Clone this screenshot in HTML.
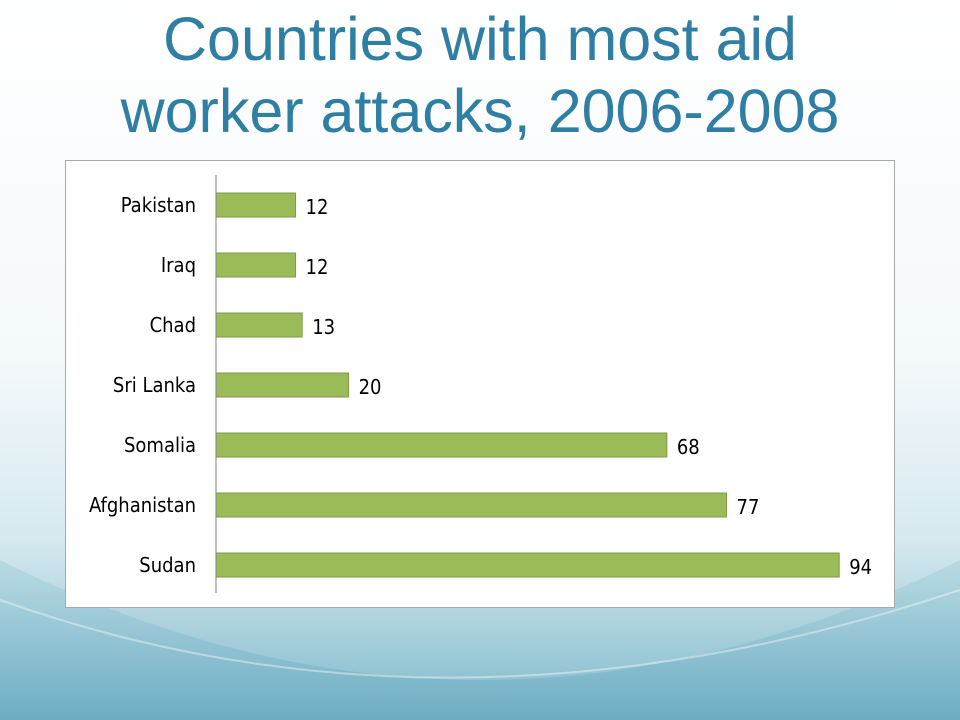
<!DOCTYPE html>
<html><head><meta charset="utf-8"><style>
body{margin:0;width:960px;height:720px;overflow:hidden;font-family:"Liberation Sans",sans-serif}
#bg{position:absolute;left:0;top:0}
h1{position:absolute;left:0;top:3px;width:960px;margin:0;text-align:center;font-weight:normal;color:#2e7fa3;font-size:61px;line-height:72px}
</style></head><body>
<svg id="bg" width="960" height="720">
<defs>
<linearGradient id="g" x1="0" y1="0" x2="0" y2="1"><stop offset="0" stop-color="#ffffff"/><stop offset="0.5" stop-color="#f4f9fb"/><stop offset="0.75" stop-color="#d6e9ef"/><stop offset="1" stop-color="#7db8ca"/></linearGradient>
<linearGradient id="w" x1="0" y1="0" x2="0" y2="1"><stop offset="0" stop-color="#b6d9e3"/><stop offset="1" stop-color="#6aabc0"/></linearGradient>
</defs>
<rect width="960" height="720" fill="url(#g)"/>
<path d="M0,560 Q480,800 960,560 L960,720 L0,720Z" fill="url(#w)" opacity="0.85"/>
<path d="M0,600 Q450,760 960,590" fill="none" stroke="#fff" stroke-opacity="0.4" stroke-width="2"/>
</svg>
<h1>Countries with most aid<br>worker attacks, 2006-2008</h1>
<svg id="chart" width="960" height="720" style="position:absolute;left:0;top:0">
<rect x="65.5" y="160.5" width="829" height="447" fill="#fff" stroke="#a6aaad"/>
</svg>
<script>
const categories=["Pakistan","Iraq","Chad","Sri Lanka","Somalia","Afghanistan","Sudan"];
const values=[12,12,13,20,68,77,94];
const svg=document.getElementById('chart');
const NS='http://www.w3.org/2000/svg';
const x0=216, pxPer=6.63;
const xScale=v=>x0+v*pxPer;
const yCenter=i=>205+i*60;
const barH=24;
function mk(t,a){const e=document.createElementNS(NS,t);for(const k in a)e.setAttribute(k,a[k]);svg.appendChild(e);return e;}
categories.forEach((c,i)=>{
  const b=mk('rect',{x:x0,y:yCenter(i)-barH/2,width:xScale(values[i])-x0,height:barH,fill:'#9bbb59',stroke:'#7f9a48','stroke-width':1});
  
  
  const l=mk('text',{x:196,y:yCenter(i)+7,'text-anchor':'end','font-size':20,fill:'#000','font-family':'"DejaVu Sans Condensed","Liberation Sans",sans-serif'});
  l.textContent=c;
  
  
  const v=mk('text',{x:xScale(values[i])+10,y:yCenter(i)+9,'font-size':20,fill:'#000','font-family':'"DejaVu Sans Condensed","Liberation Sans",sans-serif'});
  v.textContent=values[i];
  
  
});
const ax=mk('line',{x1:x0,y1:175,x2:x0,y2:593,stroke:'#868686','stroke-width':1});


</script>
</body></html>
